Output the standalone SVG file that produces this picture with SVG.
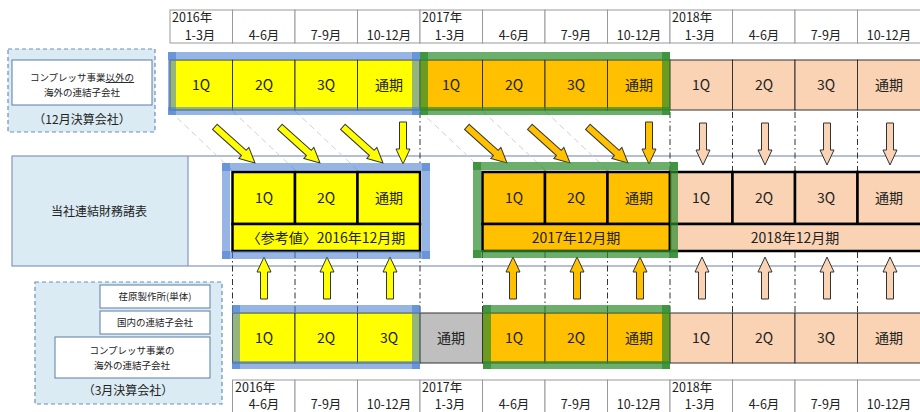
<svg xmlns="http://www.w3.org/2000/svg" xmlns:xlink="http://www.w3.org/1999/xlink" width="920" height="412" viewBox="0 0 920 412">
<style>
text{font-family:"Noto Sans CJK JP","Noto Sans",sans-serif;fill:#222}
.hdr{fill:#fff;stroke:#999;stroke-width:1}
.ht{font-size:12.5px}
.hm{font-size:12.5px;text-anchor:middle}
.c1{stroke:#333;stroke-width:1}
.c2{stroke:#000;stroke-width:2.5}
.y{fill:#ffff00}
.o{fill:#ffc000}
.p{fill:#f9d3b4}
.g{fill:#bfbfbf}
.ct{font-size:14px;text-anchor:middle}
.sm{font-size:9.5px;text-anchor:middle}
.dbox{fill:#dbebf4;stroke:#6a8fb8;stroke-width:1.2;stroke-dasharray:4 3}
.wbox{fill:#fff;stroke:#5b7da8;stroke-width:1}
.frame{fill:none;stroke:#8496b8;stroke-width:1.2}
.dd{stroke:#333;stroke-width:1;stroke-dasharray:6 3 1.5 3;fill:none}
.gd{stroke:#d0d0d0;stroke-width:1;stroke-dasharray:6 4;fill:none}
.hb line{stroke:#4a7fd0;stroke-opacity:.58;stroke-width:8;stroke-linecap:square}
.hg line{stroke:#2e8b2e;stroke-opacity:.7;stroke-width:8;stroke-linecap:square}
.ay{fill:#ffff00;stroke:#333;stroke-width:1}
.ao{fill:#ffc000;stroke:#333;stroke-width:1}
.ap{fill:#f9d3b4;stroke:#333;stroke-width:1}
</style>
<defs>
<polygon id="av" points="-42,-3.5 -15,-3.5 -15,-7 0,0 -15,7 -15,3.5 -42,3.5"/>
<polygon id="ad" points="-54,-3.5 -15,-3.5 -15,-7.5 0,0 -15,7.5 -15,3.5 -54,3.5"/>
</defs>

<!-- top header -->
<g id="header-top">
<rect class="hdr" x="170" y="10" width="62.5" height="33"/>
<rect class="hdr" x="232.5" y="10" width="62.5" height="33"/>
<rect class="hdr" x="295" y="10" width="62.5" height="33"/>
<rect class="hdr" x="357.5" y="10" width="62.5" height="33"/>
<rect class="hdr" x="420" y="10" width="62.5" height="33"/>
<rect class="hdr" x="482.5" y="10" width="62.5" height="33"/>
<rect class="hdr" x="545" y="10" width="62.5" height="33"/>
<rect class="hdr" x="607.5" y="10" width="62.5" height="33"/>
<rect class="hdr" x="670" y="10" width="62.5" height="33"/>
<rect class="hdr" x="732.5" y="10" width="62.5" height="33"/>
<rect class="hdr" x="795" y="10" width="62.5" height="33"/>
<rect class="hdr" x="857.5" y="10" width="63" height="33"/>
<text class="ht" x="172" y="22">2016年</text>
<text class="ht" x="422" y="22">2017年</text>
<text class="ht" x="672" y="22">2018年</text>
<text class="hm" x="200" y="40">1-3月</text>
<text class="hm" x="264" y="40">4-6月</text>
<text class="hm" x="326" y="40">7-9月</text>
<text class="hm" x="389" y="40">10-12月</text>
<text class="hm" x="450" y="40">1-3月</text>
<text class="hm" x="514" y="40">4-6月</text>
<text class="hm" x="576" y="40">7-9月</text>
<text class="hm" x="639" y="40">10-12月</text>
<text class="hm" x="700" y="40">1-3月</text>
<text class="hm" x="764" y="40">4-6月</text>
<text class="hm" x="826" y="40">7-9月</text>
<text class="hm" x="889" y="40">10-12月</text>
</g>

<!-- bottom header -->
<g id="header-bottom">
<rect class="hdr" x="232.5" y="380" width="62.5" height="40"/>
<rect class="hdr" x="295" y="380" width="62.5" height="40"/>
<rect class="hdr" x="357.5" y="380" width="62.5" height="40"/>
<rect class="hdr" x="420" y="380" width="62.5" height="40"/>
<rect class="hdr" x="482.5" y="380" width="62.5" height="40"/>
<rect class="hdr" x="545" y="380" width="62.5" height="40"/>
<rect class="hdr" x="607.5" y="380" width="62.5" height="40"/>
<rect class="hdr" x="670" y="380" width="62.5" height="40"/>
<rect class="hdr" x="732.5" y="380" width="62.5" height="40"/>
<rect class="hdr" x="795" y="380" width="62.5" height="40"/>
<rect class="hdr" x="857.5" y="380" width="63" height="40"/>
<text class="ht" x="235" y="392">2016年</text>
<text class="ht" x="422" y="392">2017年</text>
<text class="ht" x="672" y="392">2018年</text>
<text class="hm" x="264" y="409">4-6月</text>
<text class="hm" x="326" y="409">7-9月</text>
<text class="hm" x="389" y="409">10-12月</text>
<text class="hm" x="450" y="409">1-3月</text>
<text class="hm" x="514" y="409">4-6月</text>
<text class="hm" x="576" y="409">7-9月</text>
<text class="hm" x="639" y="409">10-12月</text>
<text class="hm" x="700" y="409">1-3月</text>
<text class="hm" x="764" y="409">4-6月</text>
<text class="hm" x="826" y="409">7-9月</text>
<text class="hm" x="889" y="409">10-12月</text>
</g>

<!-- left label: 12月決算 -->
<g id="label-dec">
<rect class="dbox" x="8" y="49" width="147" height="83"/>
<rect class="wbox" x="12" y="60" width="140" height="45"/>
<text class="sm" x="82" y="81">コンプレッサ事業<tspan text-decoration="underline">以外の</tspan></text>
<text class="sm" x="82" y="96">海外の連結子会社</text>
<text x="82" y="124" style="font-size:12px;text-anchor:middle">（12月決算会社）</text>
</g>

<!-- middle frame -->
<g id="label-consolidated">
<rect x="12" y="156" width="176" height="110" fill="#dbebf4"/>
<rect class="frame" x="12" y="156" width="910" height="110"/>
<line x1="188" y1="156" x2="188" y2="266" stroke="#8496b8" stroke-width="1.2"/>
<text x="99" y="216" style="font-size:12px;text-anchor:middle">当社連結財務諸表</text>
</g>

<!-- left label: 3月決算 -->
<g id="label-mar">
<rect class="dbox" x="35" y="282" width="187" height="122"/>
<rect class="wbox" x="100" y="285" width="110" height="23"/>
<rect class="wbox" x="100" y="311" width="110" height="23"/>
<rect class="wbox" x="55" y="337" width="155" height="41"/>
<text class="sm" x="155" y="300">荏原製作所(単体)</text>
<text class="sm" x="155" y="326">国内の連結子会社</text>
<text class="sm" x="132" y="354">コンプレッサ事業の</text>
<text class="sm" x="132" y="369">海外の連結子会社</text>
<text x="128" y="395" style="font-size:12px;text-anchor:middle">（3月決算会社）</text>
</g>

<!-- guide lines and arrows (connectors) -->
<g id="connectors">
<line class="gd" x1="170" y1="111" x2="232" y2="170"/>
<line class="gd" x1="232.5" y1="111" x2="295" y2="170"/>
<line class="gd" x1="295" y1="111" x2="357.5" y2="170"/>
<line class="gd" x1="420" y1="111" x2="482.5" y2="170"/>
<line class="gd" x1="482.5" y1="111" x2="545" y2="170"/>
<line class="gd" x1="545" y1="111" x2="607.5" y2="170"/>
<line class="dd" x1="420" y1="112" x2="420" y2="163"/>
<line class="dd" x1="670" y1="112" x2="670" y2="172"/>
<line class="dd" x1="732.5" y1="112" x2="732.5" y2="172"/>
<line class="dd" x1="795" y1="112" x2="795" y2="172"/>
<line class="dd" x1="857.5" y1="112" x2="857.5" y2="172"/>
<line class="dd" x1="232.5" y1="252" x2="232.5" y2="313"/>
<line class="dd" x1="295" y1="252" x2="295" y2="313"/>
<line class="dd" x1="357.5" y1="252" x2="357.5" y2="313"/>
<line class="dd" x1="420" y1="252" x2="420" y2="313"/>
<line class="dd" x1="482.5" y1="252" x2="482.5" y2="313"/>
<line class="dd" x1="545" y1="252" x2="545" y2="313"/>
<line class="dd" x1="607.5" y1="252" x2="607.5" y2="313"/>
<line class="dd" x1="670" y1="252" x2="670" y2="313"/>
<line class="dd" x1="732.5" y1="252" x2="732.5" y2="313"/>
<line class="dd" x1="795" y1="252" x2="795" y2="313"/>
<line class="dd" x1="857.5" y1="252" x2="857.5" y2="313"/>
<use xlink:href="#ad" class="ay" transform="translate(255,163) rotate(42)"/>
<use xlink:href="#ad" class="ay" transform="translate(320,163) rotate(42)"/>
<use xlink:href="#ad" class="ay" transform="translate(383,163) rotate(42)"/>
<use xlink:href="#av" class="ay" transform="translate(403,164) rotate(90)"/>
<use xlink:href="#ad" class="ao" transform="translate(507,163) rotate(42)"/>
<use xlink:href="#ad" class="ao" transform="translate(570,163) rotate(42)"/>
<use xlink:href="#ad" class="ao" transform="translate(628,163) rotate(42)"/>
<use xlink:href="#av" class="ao" transform="translate(649,164) rotate(90)"/>
<use xlink:href="#av" class="ap" transform="translate(703,165) rotate(90)"/>
<use xlink:href="#av" class="ap" transform="translate(765,165) rotate(90)"/>
<use xlink:href="#av" class="ap" transform="translate(827,165) rotate(90)"/>
<use xlink:href="#av" class="ap" transform="translate(890,165) rotate(90)"/>
<use xlink:href="#av" class="ay" transform="translate(264,257) rotate(-90)"/>
<use xlink:href="#av" class="ay" transform="translate(327,257) rotate(-90)"/>
<use xlink:href="#av" class="ay" transform="translate(390,257) rotate(-90)"/>
<use xlink:href="#av" class="ao" transform="translate(513,257) rotate(-90)"/>
<use xlink:href="#av" class="ao" transform="translate(577,257) rotate(-90)"/>
<use xlink:href="#av" class="ao" transform="translate(640,257) rotate(-90)"/>
<use xlink:href="#av" class="ap" transform="translate(702,257) rotate(-90)"/>
<use xlink:href="#av" class="ap" transform="translate(765,257) rotate(-90)"/>
<use xlink:href="#av" class="ap" transform="translate(827,257) rotate(-90)"/>
<use xlink:href="#av" class="ap" transform="translate(890,257) rotate(-90)"/>
</g>

<!-- top row: December closing -->
<g id="row-dec">
<rect class="c1 y" x="170" y="60" width="62.5" height="50"/>
<rect class="c1 y" x="232.5" y="60" width="62.5" height="50"/>
<rect class="c1 y" x="295" y="60" width="62.5" height="50"/>
<rect class="c1 y" x="357.5" y="60" width="62.5" height="50"/>
<rect class="c1 o" x="420" y="60" width="62.5" height="50"/>
<rect class="c1 o" x="482.5" y="60" width="62.5" height="50"/>
<rect class="c1 o" x="545" y="60" width="62.5" height="50"/>
<rect class="c1 o" x="607.5" y="60" width="62.5" height="50"/>
<rect class="c1 p" x="670" y="60" width="62.5" height="50"/>
<rect class="c1 p" x="732.5" y="60" width="62.5" height="50"/>
<rect class="c1 p" x="795" y="60" width="62.5" height="50"/>
<rect class="c1 p" x="857.5" y="60" width="63" height="50"/>
<text class="ct" x="201" y="90">1Q</text>
<text class="ct" x="264" y="90">2Q</text>
<text class="ct" x="326" y="90">3Q</text>
<text class="ct" x="389" y="90">通期</text>
<text class="ct" x="451" y="90">1Q</text>
<text class="ct" x="514" y="90">2Q</text>
<text class="ct" x="576" y="90">3Q</text>
<text class="ct" x="639" y="90">通期</text>
<text class="ct" x="701" y="90">1Q</text>
<text class="ct" x="764" y="90">2Q</text>
<text class="ct" x="826" y="90">3Q</text>
<text class="ct" x="889" y="90">通期</text>
</g>

<!-- middle row: consolidated statements -->
<g id="fy2016">
<rect class="c2 y" x="232.5" y="172" width="62.5" height="52"/>
<rect class="c2 y" x="295" y="172" width="62.5" height="52"/>
<rect class="c2 y" x="357.5" y="172" width="62.5" height="52"/>
<rect class="c2 y" x="232.5" y="224" width="187.5" height="27"/>
<text class="ct" x="264" y="203">1Q</text>
<text class="ct" x="326" y="203">2Q</text>
<text class="ct" x="389" y="203">通期</text>
<text class="ct" x="326" y="243">〈参考値〉2016年12月期</text>
</g>
<g id="fy2017">
<rect class="c2 o" x="482.5" y="172" width="62.5" height="52"/>
<rect class="c2 o" x="545" y="172" width="62.5" height="52"/>
<rect class="c2 o" x="607.5" y="172" width="62.5" height="52"/>
<rect class="c2 o" x="482.5" y="224" width="187.5" height="27"/>
<text class="ct" x="514" y="203">1Q</text>
<text class="ct" x="576" y="203">2Q</text>
<text class="ct" x="639" y="203">通期</text>
<text class="ct" x="576" y="243">2017年12月期</text>
</g>
<g id="fy2018">
<rect class="c2 p" x="670" y="172" width="62.5" height="52"/>
<rect class="c2 p" x="732.5" y="172" width="62.5" height="52"/>
<rect class="c2 p" x="795" y="172" width="62.5" height="52"/>
<rect class="c2 p" x="857.5" y="172" width="64" height="52"/>
<rect class="c2 p" x="670" y="224" width="251.5" height="27"/>
<text class="ct" x="701" y="203">1Q</text>
<text class="ct" x="764" y="203">2Q</text>
<text class="ct" x="826" y="203">3Q</text>
<text class="ct" x="889" y="203">通期</text>
<text class="ct" x="795" y="243">2018年12月期</text>
</g>

<!-- bottom row: March closing -->
<g id="row-mar">
<rect class="c1 y" x="232.5" y="313" width="62.5" height="50"/>
<rect class="c1 y" x="295" y="313" width="62.5" height="50"/>
<rect class="c1 y" x="357.5" y="313" width="62.5" height="50"/>
<rect class="c1 g" x="420" y="313" width="62.5" height="50"/>
<rect class="c1 o" x="482.5" y="313" width="62.5" height="50"/>
<rect class="c1 o" x="545" y="313" width="62.5" height="50"/>
<rect class="c1 o" x="607.5" y="313" width="62.5" height="50"/>
<rect class="c1 p" x="670" y="313" width="62.5" height="50"/>
<rect class="c1 p" x="732.5" y="313" width="62.5" height="50"/>
<rect class="c1 p" x="795" y="313" width="62.5" height="50"/>
<rect class="c1 p" x="857.5" y="313" width="63" height="50"/>
<text class="ct" x="264" y="343">1Q</text>
<text class="ct" x="326" y="343">2Q</text>
<text class="ct" x="389" y="343">3Q</text>
<text class="ct" x="451" y="343">通期</text>
<text class="ct" x="514" y="343">1Q</text>
<text class="ct" x="576" y="343">2Q</text>
<text class="ct" x="639" y="343">通期</text>
<text class="ct" x="701" y="343">1Q</text>
<text class="ct" x="764" y="343">2Q</text>
<text class="ct" x="826" y="343">3Q</text>
<text class="ct" x="889" y="343">通期</text>
</g>

<!-- highlight frames -->
<g id="hl-top-2016" class="hb">
<line x1="172" y1="56" x2="416" y2="56"/><line x1="172" y1="111" x2="416" y2="111"/>
<line x1="172" y1="56" x2="172" y2="111"/><line x1="416" y1="56" x2="416" y2="111"/>
</g>
<g id="hl-top-2017" class="hg">
<line x1="424" y1="56" x2="666" y2="56"/><line x1="424" y1="111" x2="666" y2="111"/>
<line x1="424" y1="56" x2="424" y2="111"/><line x1="666" y1="56" x2="666" y2="111"/>
</g>
<g id="hl-mid-2016" class="hb">
<line x1="226" y1="167" x2="426" y2="167"/><line x1="226" y1="255" x2="426" y2="255"/>
<line x1="226" y1="167" x2="226" y2="255"/><line x1="426" y1="167" x2="426" y2="255"/>
</g>
<g id="hl-mid-2017" class="hg">
<line x1="477" y1="166" x2="674" y2="166"/><line x1="477" y1="254" x2="674" y2="254"/>
<line x1="477" y1="166" x2="477" y2="254"/><line x1="674" y1="166" x2="674" y2="254"/>
</g>
<g id="hl-bot-2016" class="hb">
<line x1="236" y1="309" x2="416" y2="309"/><line x1="236" y1="365" x2="416" y2="365"/>
<line x1="236" y1="309" x2="236" y2="365"/><line x1="416" y1="309" x2="416" y2="365"/>
</g>
<g id="hl-bot-2017" class="hg">
<line x1="487" y1="309" x2="666" y2="309"/><line x1="487" y1="365" x2="666" y2="365"/>
<line x1="487" y1="309" x2="487" y2="365"/><line x1="666" y1="309" x2="666" y2="365"/>
</g>
</svg>
